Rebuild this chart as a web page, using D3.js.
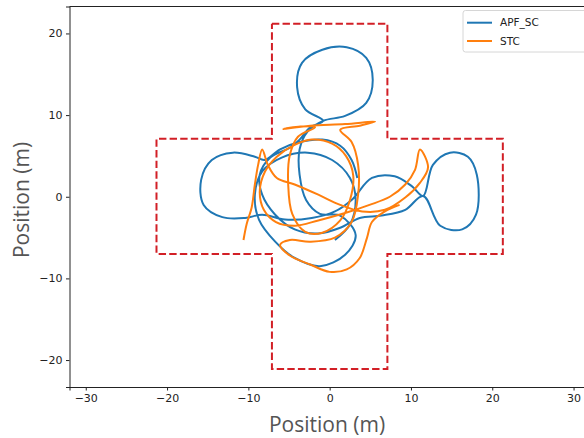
<!DOCTYPE html>
<html>
<head>
<meta charset="utf-8">
<script src="https://d3js.org/d3.v7.min.js"></script>
<style>
  body { margin: 0; background: #fff; }
  text { font-family: "DejaVu Sans", sans-serif; }
</style>
</head>
<body>
<script>
// boundary of the cross shaped area (m)
const crossX = [-7.1, 7.1, 7.1, 21.3, 21.3, 7.1, 7.1, -7.1, -7.1, -21.3, -21.3, -7.1, -7.1];
const crossY = [21.2, 21.2, 7.1, 7.1, -7.0, -7.0, -21.1, -21.1, -7.0, -7.0, 7.1, 7.1, 21.2];

// APF_SC trajectory (m)
const apfX = [3.4, 2.7, 1.3, -0.9, -3.7, -6.1, -8.0, -9.2, -11.9, -14.5, -15.8, -15.5, -13.2, -10.4, -8.3, -5.5, -2.2, 0.65, 2.7, 5.2, 8.0, 10.1, 11.5, 12.7, 14.8, 17.0, 18.1, 18.0, 16.3, 13.6, 11.5, 9.3, 6.4, 3.7, 1.3, -1.4, -4.3, -6.7, -8.3, -8.6, -7.3, -4.9, -3.7, -2.4, -0.8, -3.0, -4.0, -3.4, -0.9, 2.1, 4.5, 5.3, 4.5, 1.9, -0.8, -2.7, -3.7, -3.7, -2.9, -1.2, 1.3, 3.2, 1.9, -1.2, -4.3, -6.7, -8.7, -9.2, -8.3, -5.9, -2.7, 0.3, 2.5, 3.2, 2.5, 0.65];
const apfY = [2.3, 4.5, 6.25, 7.0, 6.7, 5.8, 4.5, 4.9, 5.4, 4.5, 2.1, -1.0, -2.5, -2.6, -2.2, -2.8, -2.6, -1.8, -0.4, 2.3, 2.5, 1.3, 0.1, 3.9, 5.4, 4.9, 2.7, -2.2, -4.0, -3.55, 0.1, -1.6, -2.3, -2.6, -3.8, -4.5, -4.0, -2.2, 0.25, 2.7, 4.8, 6.0, 7.0, 8.5, 9.3, 10.7, 13.4, 16.4, 18.0, 18.3, 17.0, 14.3, 11.5, 9.9, 9.3, 8.0, 5.8, 2.7, -0.4, -2.1, -2.3, -4.7, -7.1, -8.5, -7.5, -5.5, -2.8, 0.25, 3.1, 4.8, 5.4, 4.5, 2.3, -0.4, -3.4, -5.3];

// STC trajectory (m)
const stcX = [-10.6, -10.2, -9.6, -9.2, -8.8, -8.3, -7.6, -6.5, -4.3, -1.4, 1.3, 4.0, 6.8, 9.3, 11.1, 12.1, 11.1, 10.5, 9.3, 7.4, 4.9, 1.9, -1.4, -4.3, -6.6, -8.1, -8.6, -7.95, -6.5, -4.5, -2.2, 0.3, 2.0, 2.9, 2.5, 1.3, -0.9, -3.0, -4.6, -5.1, -4.9, -3.9, -1.8, -3.6, -5.7, -2.4, 1.9, 5.6, 3.7, 1.3, 2.7, 3.5, 3.5, 2.7, 0.65, -2.4, -4.9, -6.1, -4.9, -2.4, 0.0, 2.1, 3.7, 4.6, 5.2, 6.8, 8.6];
const stcY = [-5.3, -3.3, -1.35, 1.5, 3.9, 5.8, 3.9, 2.3, 1.5, 0.25, -1.0, -1.8, -1.6, -0.1, 1.7, 3.6, 5.8, 3.3, 1.5, 0.0, -1.0, -2.0, -2.9, -3.55, -3.1, -1.6, 0.6, 3.1, 4.9, 6.25, 7.0, 6.5, 5.0, 2.6, -0.4, -2.9, -4.4, -4.3, -2.1, 1.5, 5.1, 7.35, 8.5, 8.6, 8.3, 8.7, 8.9, 9.2, 8.7, 8.2, 6.7, 3.9, 0.25, -3.1, -5.0, -5.5, -5.3, -5.9, -7.2, -8.3, -9.2, -8.9, -7.5, -5.0, -3.1, -1.8, -1.0];

const xTicks = [-30, -20, -10, 0, 10, 20, 30];
const yTicks = [-20, -10, 0, 10, 20];

const seriesNames = ["APF_SC", "STC"];
const seriesColors = ["#1f77b4", "#ff7f0e"];

const width = 584, height = 438;
const marginLeft = 69.5, marginTop = 6.5, plotBottom = 387;

const svg = d3.select("body").append("svg")
  .attr("width", width)
  .attr("height", height);

// the right side of the axes is cut off by the picture edge
const x = d3.scaleLinear().domain([-32, 32]).range([marginLeft, marginLeft + 64 * 8.13]);
const y = d3.scaleLinear().domain([-23.3, 23.3]).range([plotBottom, marginTop]);

svg.append("clipPath").attr("id", "plot")
  .append("rect")
  .attr("x", marginLeft).attr("y", marginTop)
  .attr("width", x.range()[1] - marginLeft).attr("height", plotBottom - marginTop);

const line = d3.line()
  .x(d => x(d[0]))
  .y(d => y(d[1]))
  .curve(d3.curveCatmullRom.alpha(0.5));

const plot = svg.append("g").attr("clip-path", "url(#plot)");

// trajectories
const tracks = [d3.zip(apfX, apfY), d3.zip(stcX, stcY)];
plot.selectAll("path.track")
  .data(tracks)
  .enter().append("path")
  .attr("class", "track")
  .attr("d", line)
  .attr("fill", "none")
  .attr("stroke", (d, i) => seriesColors[i])
  .attr("stroke-width", 2)
  .attr("stroke-linejoin", "round");

// cross boundary, drawn over the tracks
plot.append("path")
  .attr("d", d3.line().x(d => x(d[0])).y(d => y(d[1]))(d3.zip(crossX, crossY)))
  .attr("fill", "none")
  .attr("stroke", "#d21f26")
  .attr("stroke-width", 2)
  .attr("stroke-dasharray", "7.4,3.2");

// axes
const xAxis = svg.append("g")
  .attr("transform", `translate(0,${plotBottom})`)
  .call(d3.axisBottom(x).tickValues(xTicks).tickSize(3.5).tickPadding(3.5).tickFormat(d3.format("")));
const yAxis = svg.append("g")
  .attr("transform", `translate(${marginLeft},0)`)
  .call(d3.axisLeft(y).tickValues(yTicks).tickSize(3.5).tickPadding(3.5).tickFormat(d3.format("")));

[xAxis, yAxis].forEach(g => {
  g.select(".domain").attr("stroke", "#222").attr("stroke-width", 1);
  g.selectAll(".tick line").attr("stroke", "#222");
  g.selectAll(".tick text").attr("fill", "#222").style("font-size", "11px");
});

// top spine
svg.append("line")
  .attr("x1", marginLeft).attr("x2", x.range()[1])
  .attr("y1", marginTop).attr("y2", marginTop)
  .attr("stroke", "#222");

// axis titles
svg.append("text")
  .attr("x", 327).attr("y", 432)
  .attr("text-anchor", "middle")
  .attr("fill", "#555")
  .style("font-family", "'Open Sans', sans-serif")
  .style("font-size", "21px")
  .text("Position (m)");

svg.append("text")
  .attr("transform", "translate(29,200) rotate(-90)")
  .attr("text-anchor", "middle")
  .attr("fill", "#555")
  .style("font-family", "'Open Sans', sans-serif")
  .style("font-size", "21px")
  .text("Position (m)");

// legend
const legend = svg.append("g");
legend.append("rect")
  .attr("x", 463).attr("y", 10.5)
  .attr("width", 125).attr("height", 41.5)
  .attr("rx", 2.5)
  .attr("fill", "#fff")
  .attr("fill-opacity", 0.8)
  .attr("stroke", "#d6d6d6");

const items = legend.selectAll("g.item")
  .data(seriesNames)
  .enter().append("g")
  .attr("transform", (d, i) => `translate(0,${22.7 + i * 18.3})`);
items.append("line")
  .attr("x1", 467).attr("x2", 492)
  .attr("stroke", (d, i) => seriesColors[i])
  .attr("stroke-width", 2);
items.append("text")
  .attr("x", 500).attr("dy", "0.35em")
  .attr("fill", "#222")
  .style("font-size", "10.5px")
  .text(d => d);
</script>
</body>
</html>
